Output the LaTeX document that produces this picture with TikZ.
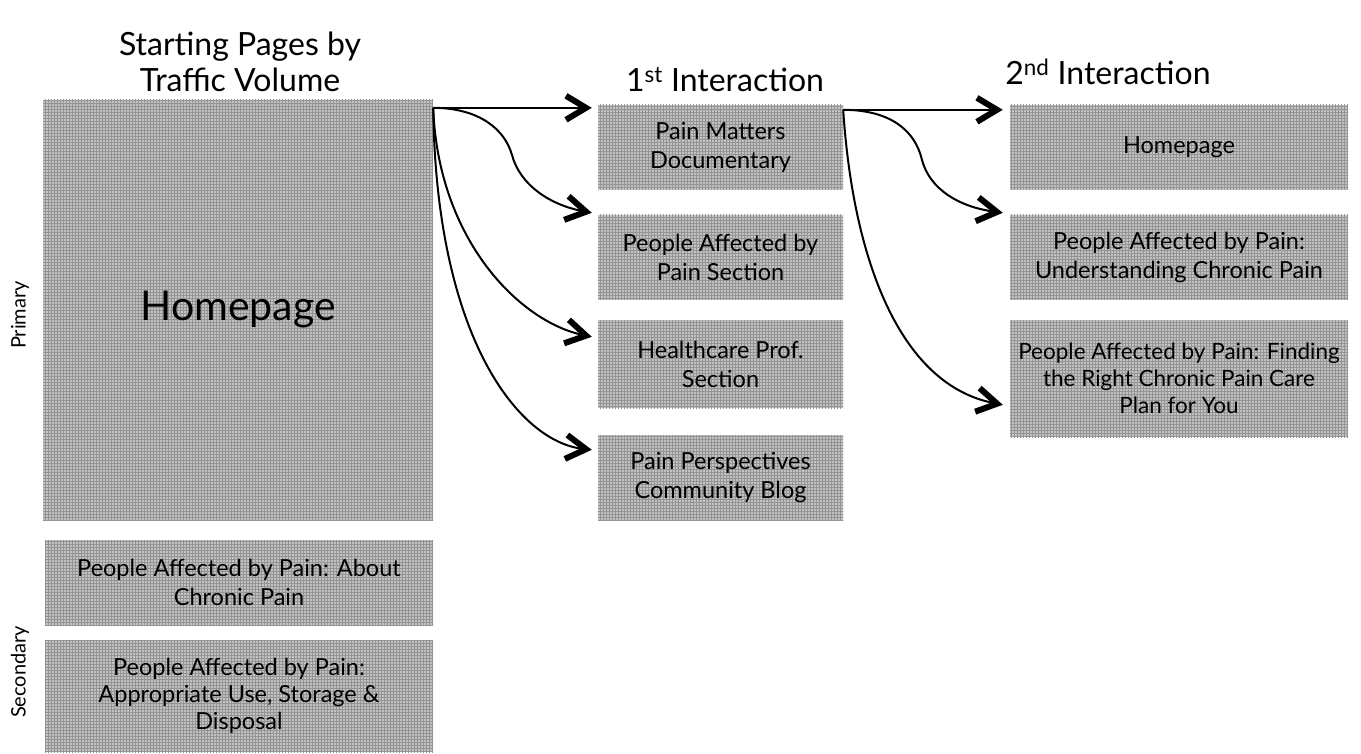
\documentclass[tikz,border=0pt]{standalone}
\usepackage{fontspec}
\setmainfont{Lato}
\usetikzlibrary{arrows.meta,patterns}
\begin{document}
\begin{tikzpicture}[x=1pt,y=-1pt,
  pagebox/.style={preaction={fill=black!24}, pattern=grid, pattern color=black!42,
    inner sep=0pt, align=center, font=\fontsize{23.5}{29}\selectfont},
  hdr/.style={align=center, font=\fontsize{32}{36}\selectfont},
  side/.style={rotate=90, font=\fontsize{20}{24}\selectfont},
  flow/.style={line width=2pt, -{Straight Barb[length=20pt,width=24pt,line width=6pt]}}]
\useasboundingbox (0,0) rectangle (1361,754);
% headers
\node[hdr] (h1) at (240,62) {Starting Pages by\\Traffic Volume};
\node[hdr] (h2) at (725,80) {1\textsuperscript{st} Interaction};
\node[hdr] (h3) at (1108,72) {2\textsuperscript{nd} Interaction};
\node[side] (prim) at (20,315) {Primary};
\node[side] (sec) at (20,672) {Secondary};
% column 1
\node[pagebox, minimum width=390, minimum height=420, font=\fontsize{41}{48}\selectfont] (home) at (238,310) {Homepage};
\node[pagebox, minimum width=388, minimum height=85] (s1) at (239,582.5) {People Affected by Pain: About\\Chronic Pain};
\node[pagebox, minimum width=388, minimum height=112, font=\fontsize{23.5}{27}\selectfont] (s2) at (239,696) {People Affected by Pain:\\Appropriate Use, Storage \&\\Disposal};
% column 2
\node[pagebox, minimum width=245, minimum height=85] (c21) at (720.5,147.5) {Pain Matters\\Documentary};
\node[pagebox, minimum width=245, minimum height=85] (c22) at (720.5,257.5) {People Affected by\\Pain Section};
\node[pagebox, minimum width=245, minimum height=88] (c23) at (720.5,364) {Healthcare Prof.\\Section};
\node[pagebox, minimum width=245, minimum height=85] (c24) at (720.5,477.5) {Pain Perspectives\\Community Blog};
% column 3
\node[pagebox, minimum width=338, minimum height=85] (c31) at (1179,147.5) {Homepage};
\node[pagebox, minimum width=338, minimum height=85] (c32) at (1179,257.5) {People Affected by Pain:\\Understanding Chronic Pain};
\node[pagebox, minimum width=338, minimum height=117, font=\fontsize{22.5}{27}\selectfont] (c33) at (1179,378.5) {People Affected by Pain: Finding\\the Right Chronic Pain Care\\Plan for You};
% sources
\coordinate (o1) at ([yshift=-8pt]home.north east);
\coordinate (o2) at ([yshift=-5pt]c21.north east);
% connectors
\draw[flow] (o1) -- ([xshift=-6pt,yshift=-3pt]c21.north west);
\draw[flow] (o1) .. controls (480,108) and (505,130) .. (512,155) .. controls (520,185) and (550,205) .. ([xshift=-6pt,yshift=2pt]c22.north west);
\draw[flow] (o1) .. controls (438,240) and (520,322) .. ([xshift=-6pt,yshift=-17pt]c23.north west);
\draw[flow] (o1) .. controls (436,340) and (520,442) .. ([xshift=-6pt,yshift=-15pt]c24.north west);
\draw[flow] (o2) -- ([xshift=-7pt,yshift=-5pt]c31.north west);
\draw[flow] (o2) .. controls (890,110) and (915,130) .. (922,160) .. controls (930,190) and (960,207) .. ([xshift=-7pt,yshift=2pt]c32.north west);
\draw[flow] (o2) .. controls (853,260) and (900,385) .. ([xshift=-7pt,yshift=-85pt]c33.north west);
\end{tikzpicture}
\end{document}
